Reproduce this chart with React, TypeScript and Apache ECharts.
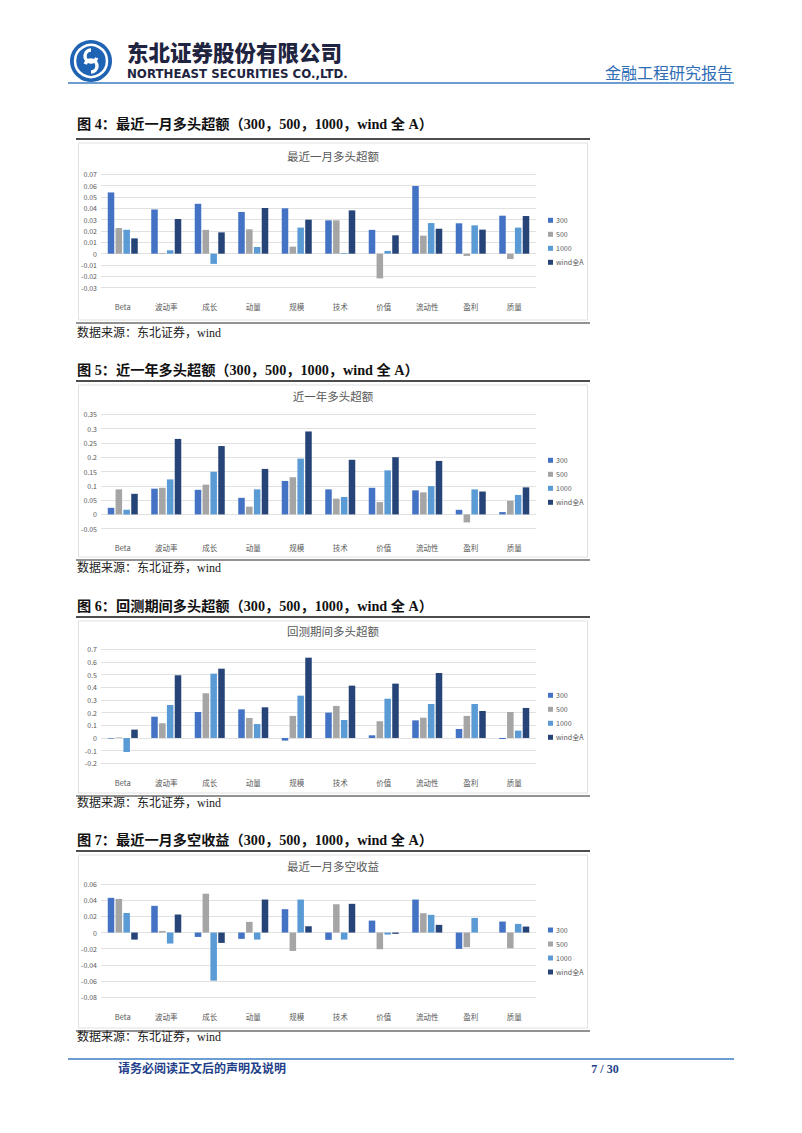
import React, { useEffect, useRef } from 'react';
import * as echarts from 'echarts';

const categories = ['Beta', '波动率', '成长', '动量', '规模', '技术', '价值', '流动性', '盈利', '质量'];
const seriesNames = ['300', '500', '1000', 'wind全A'];
const seriesColors = ['#4472C4', '#A5A5A5', '#5B9BD5', '#264478'];

// 图4 最近一月多头超额
const m1_300 = [0.054, 0.039, 0.044, 0.0368, 0.04, 0.0294, 0.021, 0.0597, 0.0268, 0.0335];
const m1_500 = [0.0226, 0.0006, 0.021, 0.0215, 0.0062, 0.0294, -0.0218, 0.0159, -0.002, -0.0047];
const m1_1000 = [0.021, 0.003, -0.009, 0.0059, 0.023, 0.0006, 0.0024, 0.027, 0.025, 0.023];
const m1_wind = [0.0135, 0.0306, 0.0188, 0.0403, 0.03, 0.0382, 0.0162, 0.022, 0.0212, 0.0332];

// 图5 近一年多头超额
const y1_300 = [0.023, 0.09, 0.086, 0.058, 0.117, 0.0875, 0.093, 0.084, 0.016, 0.008];
const y1_500 = [0.0875, 0.093, 0.104, 0.027, 0.13, 0.055, 0.043, 0.077, -0.028, 0.048];
const y1_1000 = [0.016, 0.1225, 0.149, 0.0875, 0.195, 0.061, 0.154, 0.099, 0.0875, 0.068];
const y1_wind = [0.072, 0.264, 0.239, 0.159, 0.29, 0.191, 0.2, 0.187, 0.08, 0.0945];

// 图6 回测期间多头超额
const bt_300 = [-0.005, 0.168, 0.205, 0.226, -0.021, 0.2, 0.021, 0.139, 0.071, -0.008];
const bt_500 = [0.004, 0.116, 0.353, 0.158, 0.174, 0.253, 0.132, 0.16, 0.174, 0.205];
const bt_1000 = [-0.11, 0.26, 0.508, 0.11, 0.334, 0.142, 0.31, 0.268, 0.268, 0.058];
const bt_wind = [0.066, 0.495, 0.547, 0.242, 0.634, 0.413, 0.429, 0.513, 0.213, 0.237];

// 图7 最近一月多空收益
const ls_300 = [0.0429, 0.033, -0.0054, -0.0078, 0.0289, -0.009, 0.0148, 0.0408, -0.0202, 0.0136];
const ls_500 = [0.0416, 0.002, 0.048, 0.0132, -0.0227, 0.035, -0.0206, 0.0239, -0.0181, -0.0194];
const ls_1000 = [0.0243, -0.0136, -0.0594, -0.0087, 0.0408, -0.0087, -0.0025, 0.0219, 0.0181, 0.0107];
const ls_wind = [-0.0087, 0.0223, -0.0128, 0.0408, 0.0078, 0.0355, -0.0016, 0.0095, 0.0, 0.0074];

const chartData = [
  [m1_300, m1_500, m1_1000, m1_wind],
  [y1_300, y1_500, y1_1000, y1_wind],
  [bt_300, bt_500, bt_1000, bt_wind],
  [ls_300, ls_500, ls_1000, ls_wind],
];

const chartTitles = ['最近一月多头超额', '近一年多头超额', '回测期间多头超额', '最近一月多空收益'];
const figureHeadings = [
  '图 4：最近一月多头超额（300，500，1000，wind 全 A）',
  '图 5：近一年多头超额（300，500，1000，wind 全 A）',
  '图 6：回测期间多头超额（300，500，1000，wind 全 A）',
  '图 7：最近一月多空收益（300，500，1000，wind 全 A）',
];
const sourceText = '数据来源：东北证券，wind';
const yMins = [-0.03, -0.05, -0.2, -0.08];
const yMaxs = [0.07, 0.35, 0.7, 0.06];
const ySteps = [0.01, 0.05, 0.1, 0.02];

const companyName = '东北证券股份有限公司';
const companyEn = 'NORTHEAST SECURITIES CO.,LTD.';
const reportType = '金融工程研究报告';
const footerNote = '请务必阅读正文后的声明及说明';
const pageNo = '7 / 30';

// layout (page coordinates)
const panels = [
  { H: 124, U: 139, B: 323, C: 333, top: 174.3, bottom: 287.7 },
  { H: 370, U: 381, B: 560, C: 568, top: 414.3, bottom: 528.7 },
  { H: 606, U: 617, B: 796, C: 803, top: 649.3, bottom: 763.3 },
  { H: 840, U: 851, B: 1031, C: 1037, top: 884, bottom: 997.3 },
];

const CJK = '"Noto Sans CJK SC", "Noto Sans", sans-serif';
const SERIF = '"Liberation Serif", "Noto Sans CJK SC", serif';

export default function App() {
  const ref = useRef<HTMLDivElement>(null);

  useEffect(() => {
    document.body.style.margin = '0';
    const chart = echarts.init(ref.current!, undefined, { renderer: 'svg' });

    const grids: any[] = [];
    const xAxes: any[] = [];
    const yAxes: any[] = [];
    const legends: any[] = [];
    const series: any[] = [];
    const graphics: any[] = [];

    panels.forEach((p, i) => {
      grids.push({ left: 101, width: 435, top: p.top, height: p.bottom - p.top, containLabel: false });
      xAxes.push({
        type: 'category',
        gridIndex: i,
        data: categories,
        axisLine: { show: false, onZero: false },
        axisTick: { show: false },
        axisLabel: { fontSize: 7.5, color: '#595959', margin: 15, fontFamily: CJK, interval: 0 },
        splitLine: { show: false },
      });
      yAxes.push({
        type: 'value',
        gridIndex: i,
        min: yMins[i],
        max: yMaxs[i],
        interval: ySteps[i],
        axisLine: { show: false },
        axisTick: { show: false },
        axisLabel: {
          fontSize: 7,
          color: '#595959',
          margin: 4,
          fontFamily: CJK,
          formatter: (v: number) => String(parseFloat(v.toFixed(4))),
        },
        splitLine: { lineStyle: { color: '#D9D9D9', width: 0.8 } },
      });
      legends.push({
        orient: 'vertical',
        left: 548,
        top: p.top + 46 - 4,
        padding: 0,
        itemWidth: 5,
        itemHeight: 5,
        itemGap: 6,
        selectedMode: false,
        icon: 'rect',
        data: seriesNames,
        textStyle: { fontSize: 7, lineHeight: 8, color: '#595959', fontFamily: CJK, padding: [0, 0, 0, -2] },
      });
      chartData[i].forEach((vals, k) => {
        series.push({
          type: 'bar',
          name: seriesNames[k],
          xAxisIndex: i,
          yAxisIndex: i,
          data: vals,
          itemStyle: { color: seriesColors[k] },
          barGap: '20%',
          barCategoryGap: '31%',
        });
      });

      // page furniture for this panel
      graphics.push(
        {
          type: 'text',
          x: 77,
          y: p.H,
          style: {
            text: figureHeadings[i],
            fontSize: 14.2,
            fontWeight: 'bold',
            fontFamily: SERIF,
            fill: '#111',
            verticalAlign: 'middle',
          },
        },
        { type: 'line', shape: { x1: 76, y1: p.U, x2: 590, y2: p.U }, style: { stroke: '#111', lineWidth: 1.6 } },
        {
          type: 'rect',
          shape: { x: 78.5, y: p.U + 4, width: 509, height: p.B - p.U - 7 },
          style: { fill: '#fff', stroke: '#D9D9D9', lineWidth: 0.8 },
          z: -10,
        },
        { type: 'line', shape: { x1: 76, y1: p.B, x2: 590, y2: p.B }, style: { stroke: '#6e6e6e', lineWidth: 1.6 } },
        {
          type: 'text',
          x: 77,
          y: p.C,
          style: { text: sourceText, fontSize: 12, fontFamily: SERIF, fill: '#222', verticalAlign: 'middle' },
        },
        {
          type: 'text',
          x: 333,
          y: p.top - 18,
          style: {
            text: chartTitles[i],
            fontSize: 11.5,
            fontFamily: CJK,
            fill: '#595959',
            align: 'center',
            verticalAlign: 'middle',
          },
        }
      );
    });

    // header
    graphics.push(
      { type: 'circle', shape: { cx: 91, cy: 61, r: 21 }, style: { fill: '#1F64B4' } },
      { type: 'circle', shape: { cx: 91, cy: 61, r: 16 }, style: { fill: 'none', stroke: '#fff', lineWidth: 2.5 } },
      {
        type: 'arc',
        shape: { cx: 91, cy: 56, r: 6, startAngle: Math.PI * 0.1, endAngle: Math.PI * 1.5, clockwise: true },
        style: { stroke: '#fff', lineWidth: 3.5, fill: 'none' },
      },
      {
        type: 'arc',
        shape: { cx: 91, cy: 66, r: 6, startAngle: Math.PI * 1.1, endAngle: Math.PI * 0.5, clockwise: true },
        style: { stroke: '#fff', lineWidth: 3.5, fill: 'none' },
      },
      {
        type: 'text',
        x: 127,
        y: 51,
        style: { text: companyName, fontSize: 21.5, fontWeight: 900, fontFamily: CJK, fill: '#1f2440', verticalAlign: 'middle' },
      },
      {
        type: 'text',
        x: 127,
        y: 74,
        style: {
          text: companyEn,
          fontSize: 11.8,
          fontWeight: 'bold',
          fontFamily: '"DejaVu Sans", sans-serif',
          fill: '#1f2440',
          verticalAlign: 'middle',
        },
      },
      {
        type: 'text',
        x: 733,
        y: 72,
        style: { text: reportType, fontSize: 16, fontFamily: CJK, fill: '#2F6DB5', align: 'right', verticalAlign: 'middle' },
      },
      { type: 'line', shape: { x1: 68, y1: 83, x2: 734, y2: 83 }, style: { stroke: '#3A7CC4', lineWidth: 1.5 } },
      // footer
      { type: 'line', shape: { x1: 68, y1: 1059, x2: 734, y2: 1059 }, style: { stroke: '#3A7CC4', lineWidth: 1.5 } },
      {
        type: 'text',
        x: 118,
        y: 1069,
        style: { text: footerNote, fontSize: 12, fontWeight: 'bold', fontFamily: SERIF, fill: '#1F3F8A', verticalAlign: 'middle' },
      },
      {
        type: 'text',
        x: 605,
        y: 1069,
        style: { text: pageNo, fontSize: 12, fontWeight: 'bold', fontFamily: SERIF, fill: '#1F3F8A', align: 'center', verticalAlign: 'middle' },
      }
    );

    chart.setOption({
      animation: false,
      backgroundColor: '#fff',
      grid: grids,
      xAxis: xAxes,
      yAxis: yAxes,
      legend: legends,
      series,
      graphic: graphics,
    });

    return () => chart.dispose();
  }, []);

  return <div ref={ref} style={{ position: 'absolute', left: 0, top: 0, width: 802, height: 1133 }} />;
}
